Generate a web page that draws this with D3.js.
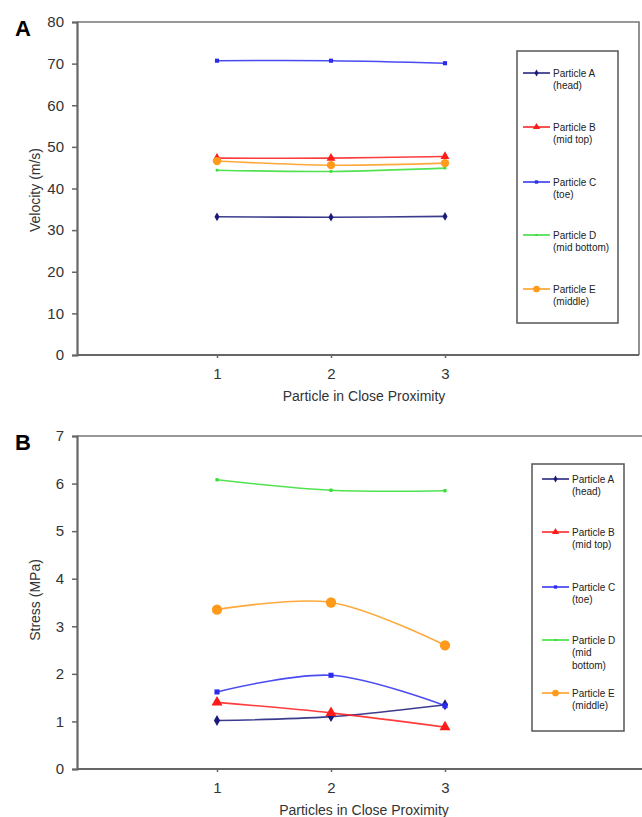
<!DOCTYPE html>
<html>
<head>
<meta charset="utf-8">
<script src="https://cdn.jsdelivr.net/npm/d3@7"></script>
<style>
  body { margin: 0; background: #fff; }
  svg { font-family: "Liberation Sans", Arial, sans-serif; }
</style>
</head>
<body>
<div id="chart"></div>
<script>
// categories (x axis)
const proximity = ["1", "2", "3"];

// panel A: velocity (m/s)
const velocityA = [33.2, 33.1, 33.3];
const velocityB = [47.3, 47.3, 47.7];
const velocityC = [70.7, 70.7, 70.1];
const velocityD = [44.4, 44.1, 44.9];
const velocityE = [46.6, 45.6, 46.1];
const velocityTicks = [0, 10, 20, 30, 40, 50, 60, 70, 80];

// panel B: stress (MPa)
const stressA = [1.02, 1.10, 1.35];
const stressB = [1.40, 1.18, 0.88];
const stressC = [1.62, 1.97, 1.33];
const stressD = [6.08, 5.86, 5.85];
const stressE = [3.35, 3.50, 2.60];
const stressTicks = [0, 1, 2, 3, 4, 5, 6, 7];

const particleNames = ["Particle A", "Particle B", "Particle C", "Particle D", "Particle E"];
const legendSubA = [["(head)"], ["(mid top)"], ["(toe)"], ["(mid bottom)"], ["(middle)"]];
const legendSubB = [["(head)"], ["(mid top)"], ["(toe)"], ["(mid", "bottom)"], ["(middle)"]];

const colors = ["#1a1a7a", "#ff1a1a", "#2b2bf0", "#33dd33", "#ff9a1a"];
const markers = ["diamond", "triangle", "square", "dot", "circle"];

const svg = d3.select("#chart").append("svg")
    .attr("width", 642)
    .attr("height", 817);

// k scales the marker area
function drawMarker(g, type, x, y, color, k) {
    const at = `translate(${x},${y})`;
    if (type === "diamond") {
        g.append("path").attr("d", d3.symbol(d3.symbolDiamond, 26 * k)()).attr("transform", at).attr("fill", color);
    } else if (type === "triangle") {
        g.append("path").attr("d", d3.symbol(d3.symbolTriangle, 40 * k)()).attr("transform", at).attr("fill", color);
    } else if (type === "square") {
        g.append("path").attr("d", d3.symbol(d3.symbolSquare, 20 * k)()).attr("transform", at).attr("fill", color);
    } else if (type === "dot") {
        g.append("path").attr("d", d3.symbol(d3.symbolSquare, 8 * k)()).attr("transform", at).attr("fill", color);
    } else {
        g.append("circle").attr("cx", x).attr("cy", y).attr("r", 4.5 * Math.sqrt(k)).attr("fill", color);
    }
}

function panel(opt) {
    const g = svg.append("g").attr("transform", `translate(${opt.left},${opt.top})`);
    const w = opt.right - opt.left, h = opt.bottom - opt.top;

    const x = d3.scalePoint().domain(proximity).range([140, 368]);
    const y = d3.scaleLinear().domain(opt.domain).range([h, 0]);

    // frame (top + right)
    g.append("path")
        .attr("d", `M0,0H${w}V${h}`)
        .attr("fill", "none").attr("stroke", "#777").attr("stroke-width", 1.6);

    // y axis
    const ya = g.append("g").call(d3.axisLeft(y).tickValues(opt.ticks)
        .tickFormat(d3.format("d")).tickSize(5).tickPadding(8));
    ya.select(".domain").attr("stroke", "#666").attr("stroke-width", 2.2);
    ya.selectAll(".tick line").attr("stroke", "#666").attr("stroke-width", 1.5);
    ya.selectAll("text").attr("font-size", 15).attr("fill", "#333")
        .attr("font-family", "'Liberation Sans', Arial, sans-serif");

    // x axis
    const xa = g.append("g").attr("transform", `translate(0,${h})`)
        .call(d3.axisBottom(x).tickSize(3).tickPadding(10).tickSizeOuter(0));
    xa.select(".domain").attr("d", `M0,0H${w}`).attr("stroke", "#666").attr("stroke-width", 2.2);
    xa.selectAll(".tick line").attr("stroke", "#666").attr("stroke-width", 1.5);
    xa.selectAll("text").attr("font-size", 15).attr("fill", "#333")
        .attr("font-family", "'Liberation Sans', Arial, sans-serif");

    // titles
    g.append("text").attr("x", 287).attr("y", h + 46)
        .attr("text-anchor", "middle").attr("font-size", 14).attr("fill", "#333")
        .text(opt.xTitle);
    g.append("text")
        .attr("transform", `translate(${opt.yTitleX - opt.left},${opt.yTitleY - opt.top}) rotate(-90)`)
        .attr("text-anchor", "middle").attr("font-size", 14).attr("fill", "#333")
        .text(opt.yTitle);
    g.append("text").attr("x", 15 - opt.left).attr("y", 14)
        .attr("font-size", 22).attr("font-weight", "bold").attr("fill", "#000")
        .text(opt.letter);

    // series
    const line = d3.line()
        .x((d, i) => x(proximity[i]))
        .y(d => y(d))
        .curve(d3.curveCatmullRom.alpha(0.5));

    opt.series.forEach((vals, s) => {
        g.append("path").datum(vals)
            .attr("d", line)
            .attr("fill", "none")
            .attr("stroke", colors[s])
            .attr("stroke-width", 1.6)
            .attr("stroke-opacity", 0.85);
        vals.forEach((v, i) => drawMarker(g, markers[s], x(proximity[i]), y(v), colors[s], opt.markerK));
    });

    // legend
    const lg = svg.append("g");
    lg.append("rect")
        .attr("x", opt.legend.x).attr("y", opt.legend.y)
        .attr("width", opt.legend.w).attr("height", opt.legend.h)
        .attr("fill", "#fff").attr("stroke", "#555").attr("stroke-width", 1.5);
    particleNames.forEach((name, s) => {
        const cy = opt.legend.items[s];
        const lx = opt.legend.x + opt.legend.lineX;
        lg.append("line")
            .attr("x1", lx).attr("x2", lx + 27)
            .attr("y1", cy).attr("y2", cy)
            .attr("stroke", colors[s]).attr("stroke-width", 1.5);
        drawMarker(lg, markers[s], lx + 13.5, cy, colors[s], 0.55);
        const t = lg.append("text")
            .attr("x", lx + 30).attr("y", cy + 3.5)
            .attr("font-size", 10).attr("fill", "#222");
        t.append("tspan").text(name);
        opt.legend.subs[s].forEach(sub => {
            t.append("tspan").attr("x", lx + 30).attr("dy", 12.5).text(sub);
        });
    });
}

panel({
    left: 77, top: 22, right: 639, bottom: 355,
    domain: [0, 80], ticks: velocityTicks,
    xTitle: "Particle in Close Proximity",
    yTitle: "Velocity (m/s)", yTitleX: 40, yTitleY: 190,
    letter: "A", markerK: 0.85,
    series: [velocityA, velocityB, velocityC, velocityD, velocityE],
    legend: { x: 517, y: 51, w: 101, h: 272, lineX: 6,
              items: [73, 127, 182, 235, 289], subs: legendSubA }
});

panel({
    left: 77, top: 436, right: 660, bottom: 769,
    domain: [0, 7], ticks: stressTicks,
    xTitle: "Particles in Close Proximity",
    yTitle: "Stress (MPa)", yTitleX: 40, yTitleY: 600,
    letter: "B", markerK: 1.3,
    series: [stressA, stressB, stressC, stressD, stressE],
    legend: { x: 532, y: 464, w: 92, h: 267, lineX: 10,
              items: [479, 532, 587, 640, 693], subs: legendSubB }
});
</script>
</body>
</html>
